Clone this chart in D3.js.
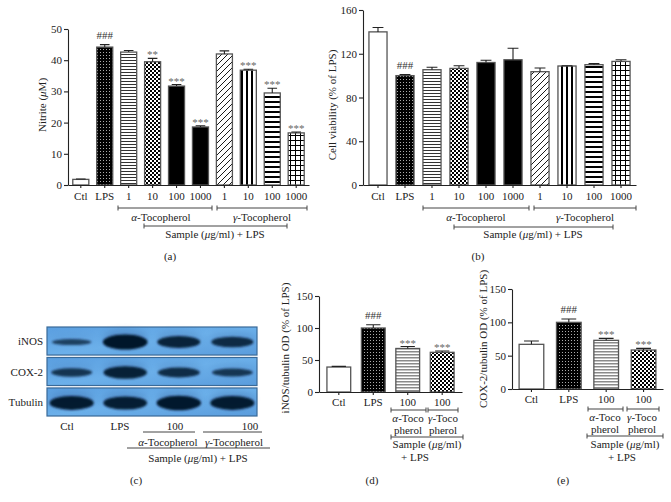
<!DOCTYPE html>
<html><head><meta charset="utf-8">
<script src="https://cdn.jsdelivr.net/npm/d3@7"></script>
<style>body{margin:0;background:#fff} svg text, svg tspan{font-family:"Liberation Serif",serif !important;fill:#222}</style>
</head><body><svg id="c" width="671" height="502" font-family="Liberation Serif, serif"></svg>
<script>
// ---------- data ----------
const catsAB = ["Ctl","LPS","a1","a10","a100","a1000","g1","g10","g100","g1000"];
const tickLabelsAB = ["Ctl","LPS","1","10","100","1000","1","10","100","1000"];
const patternsAB = ["white","dots","hlines","checker","black","black","diag","vstripes","hthick","grid"];
const nitrite = [1.8,44.2,42.6,39.5,31.7,18.6,42.0,36.8,29.5,16.7];
const nitriteErr = [1.9,45.0,43.1,40.6,32.2,19.0,43.0,37.1,31.0,17.0];
const nitriteSig = ["","###","","**","***","***","","***","***","***"];
const yTicksA = [0,10,20,30,40,50];
const viability = [140,100,105.4,106.6,112,114.5,103.6,108.8,110,113];
const viabilityErr = [144,101,107.6,109,114,125,107,109,111,114.5];
const viabilitySig = ["","###","","","","","","","",""];
const yTicksB = [0,40,80,120,160];
const catsDE = ["Ctl","LPS","a100","g100"];
const tickLabelsDE = ["Ctl","LPS","100","100"];
const patternsDE = ["white","dots","grayh","checker"];
const inos = [39,100,68,62];
const inosErr = [40,105,71,64];
const inosSig = ["","###","***","***"];
const cox2 = [67,100,73,58.5];
const cox2Err = [72,105,76,61];
const cox2Sig = ["","###","***","***"];
const yTicksDE = [0,50,100,150];
const blotRows = ["iNOS","COX-2","Tubulin"];
const blotLanes = ["Ctl","LPS","α100","γ100"];
const blotIntensity = [[0.25,1.0,0.75,0.62],[0.45,0.8,0.6,0.42],[0.9,0.85,0.95,0.9]];

// ---------- setup ----------
const FONT = "'Liberation Serif', serif";
const svg = d3.select("#c");
svg.append("rect").attr("width",671).attr("height",502).attr("fill","#fff");
const defs = svg.append("defs");
function pat(id,w,h,draw){const p=defs.append("pattern").attr("id",id).attr("patternUnits","userSpaceOnUse").attr("width",w).attr("height",h);draw(p);}
pat("dots",3,3,p=>{p.append("rect").attr("width",3).attr("height",3).attr("fill","#000");p.append("rect").attr("x",1).attr("y",1).attr("width",1).attr("height",1).attr("fill","#aaa");});
pat("hlines",3,3,p=>{p.append("rect").attr("width",3).attr("height",3).attr("fill","#fff");p.append("rect").attr("width",3).attr("height",1).attr("fill","#333");});
pat("checker",4,4,p=>{p.append("rect").attr("width",4).attr("height",4).attr("fill","#fff");p.append("rect").attr("width",2).attr("height",2).attr("fill","#000");p.append("rect").attr("x",2).attr("y",2).attr("width",2).attr("height",2).attr("fill","#000");});
pat("diag",6,6,p=>{p.append("rect").attr("width",6).attr("height",6).attr("fill","#fff");p.append("path").attr("d","M0,6L6,0M-1,1L1,-1M5,7L7,5").attr("stroke","#000").attr("stroke-width",0.9);});
pat("vstripes",5,5,p=>{p.append("rect").attr("width",5).attr("height",5).attr("fill","#fff");p.append("rect").attr("x",1).attr("width",2).attr("height",5).attr("fill","#000");});
pat("hthick",5,5,p=>{p.append("rect").attr("width",5).attr("height",5).attr("fill","#fff");p.append("rect").attr("y",1).attr("width",5).attr("height",2).attr("fill","#000");});
pat("grid",5,5,p=>{p.append("rect").attr("width",5).attr("height",5).attr("fill","#fff");p.append("path").attr("d","M0,0.5H5M0.5,0V5").attr("stroke","#000").attr("stroke-width",1);});
pat("grayh",3,3,p=>{p.append("rect").attr("width",3).attr("height",3).attr("fill","#fff");p.append("rect").attr("width",3).attr("height",1.5).attr("fill","#8a8a8a");});
const blur = defs.append("filter").attr("id","blur").attr("x","-30%").attr("y","-80%").attr("width","160%").attr("height","260%");
blur.append("feGaussianBlur").attr("stdDeviation",1.3);
const blur2 = defs.append("filter").attr("id","blur2").attr("x","-30%").attr("y","-100%").attr("width","160%").attr("height","300%");
blur2.append("feGaussianBlur").attr("stdDeviation",3.5);
const fillOf = p => p==="white"?"#fff":p==="black"?"#000":`url(#${p})`;

function barPanel(o){
  const g = svg.append("g");
  const x = d3.scaleBand().domain(o.cats).range(o.xr).paddingInner(o.pi).paddingOuter(o.po);
  const y = d3.scaleLinear().domain(o.yd).range(o.yr);
  const bw = x.bandwidth();
  g.selectAll("rect.bar").data(o.cats).join("rect").attr("class","bar")
    .attr("x",d=>x(d)).attr("width",bw)
    .attr("y",(d,i)=>y(o.vals[i])).attr("height",(d,i)=>y(0)-y(o.vals[i]))
    .attr("fill",(d,i)=>fillOf(o.pats[i])).attr("stroke","#555").attr("stroke-width",1.3);
  const cap = bw*0.3;
  g.selectAll("path.err").data(o.cats).join("path").attr("class","err")
    .attr("d",(d,i)=>{const cx=x(d)+bw/2,t=y(o.errs[i]),b=y(o.vals[i]);return `M${cx},${b}V${t}M${cx-cap},${t}H${cx+cap}`;})
    .attr("stroke","#222").attr("stroke-width",1.1).attr("fill","none");
  g.selectAll("text.sig").data(o.cats).join("text").attr("class","sig")
    .attr("x",d=>x(d)+bw/2).attr("y",(d,i)=>y(o.errs[i])-(o.sigs[i].startsWith("#")?6:0))
    .attr("text-anchor","middle").attr("font-size",11).attr("font-family",FONT)
    .style("fill",(d,i)=>o.sigs[i].startsWith("#")?"#333":"#666")
    .text((d,i)=>o.sigs[i]);
  const ya = g.append("g").attr("transform",`translate(${o.xr[0]},0)`)
    .call(d3.axisLeft(y).tickValues(o.yt).tickSize(4).tickSizeOuter(0).tickPadding(2));
  const xa = g.append("g").attr("transform",`translate(0,${o.yr[0]})`)
    .call(d3.axisBottom(x).tickSize(3).tickSizeOuter(0).tickPadding(o.xpad||4).tickFormat((d,i)=>o.labels[i]));
  [ya,xa].forEach(a=>{a.attr("font-family",FONT).attr("font-size",11);
    a.selectAll("text").attr("font-family",FONT).attr("font-size",11).style("fill","#222");
    a.selectAll("path,line").attr("stroke","#222").attr("stroke-width",1.1);});
  const t = g.append("text").attr("transform",`translate(${o.tx},${o.ty}) rotate(-90)`).attr("text-anchor","middle").attr("font-size",11).attr("font-family",FONT);
  o.title(t);
  return g;
}
function bracket(x1,x2,y,ends=true){
  let d=`M${x1},${y}H${x2}`; if(ends) d+=`M${x1},${y-2.5}V${y+2.5}M${x2},${y-2.5}V${y+2.5}`;
  svg.append("path").attr("d",d).attr("stroke","#444").attr("stroke-width",1).attr("fill","none");
}
function label(x,y,parts,size=11,anchor="middle"){
  const t=svg.append("text").attr("x",x).attr("y",y).attr("text-anchor",anchor).attr("font-size",size).attr("font-family",FONT);
  parts.forEach(p=>{const s=t.append("tspan").attr("font-family",FONT).text(typeof p==="string"?p:p.t); if(p.i) s.attr("font-style","italic");});
  return t;
}

// ---------- panel (a) ----------
barPanel({cats:catsAB,labels:tickLabelsAB,vals:nitrite,errs:nitriteErr,sigs:nitriteSig,pats:patternsAB,
  xr:[68,309],pi:0.33,po:0.2,yd:[0,50],yr:[185,29],yt:yTicksA,tx:46,ty:105,
  title:t=>{t.append("tspan").text("Nitrite (");t.append("tspan").attr("font-style","italic").text("μ");t.append("tspan").text("M)");}});
bracket(118,212,208); bracket(217,307,208); bracket(144,287,226);
label(161,221,[{t:"α",i:1},"-Tocopherol"]);
label(262,221,[{t:"γ",i:1},"-Tocopherol"]);
label(215,238,["Sample (",{t:"μ",i:1},"g/ml) + LPS"]);
label(170,260,["(a)"]);

// ---------- panel (b) ----------
barPanel({cats:catsAB,labels:tickLabelsAB,vals:viability,errs:viabilityErr,sigs:viabilitySig,pats:patternsAB,
  xr:[363,636],pi:0.33,po:0.22,yd:[0,160],yr:[185,10],yt:yTicksB,tx:336,ty:105,
  title:t=>{t.text("Cell viability (% of LPS)");}});
bracket(423,529,208); bracket(534,636,208); bracket(454,613,227);
label(476,221,[{t:"α",i:1},"-Tocopherol"]);
label(585,221,[{t:"γ",i:1},"-Tocopherol"]);
label(533,238,["Sample (",{t:"μ",i:1},"g/ml) + LPS"]);
label(478,260,["(b)"]);

// ---------- panel (c) western blot ----------
const lane = d3.scaleBand().domain(blotLanes).range([47,257]).paddingInner(0.18).paddingOuter(0.05);
const rowY = d3.scaleBand().domain(blotRows).range([327,416]).paddingInner(0.08);
const bg = defs.append("linearGradient").attr("id","blotbg").attr("x1",0).attr("y1",0).attr("x2",1).attr("y2",1);
bg.append("stop").attr("offset","0%").attr("stop-color","#5b9fe0");
bg.append("stop").attr("offset","50%").attr("stop-color","#6cb0ea");
bg.append("stop").attr("offset","100%").attr("stop-color","#5a9cdc");
blotRows.forEach((r,ri)=>{
  const y0=rowY(r),h=rowY.bandwidth();
  svg.append("rect").attr("x",47).attr("y",y0).attr("width",210).attr("height",h).attr("fill","url(#blotbg)").attr("stroke","#3a6a98").attr("stroke-width",1.2);
  const cg=svg.append("g");
  blotLanes.forEach((l,li)=>{
    const v=blotIntensity[ri][li];
    const cx=lane(l)+lane.bandwidth()/2, cy=y0+h/2+1;
    cg.append("ellipse").attr("cx",cx).attr("cy",cy-4).attr("rx",lane.bandwidth()*0.5).attr("ry",3+5*v).attr("fill","#2a5590").attr("opacity",0.3*v).attr("filter","url(#blur2)");
    cg.append("ellipse").attr("cx",cx).attr("cy",cy).attr("rx",lane.bandwidth()*(0.43+0.08*v)).attr("ry",1.5+6*v).attr("fill","#06122a").attr("opacity",0.6+0.4*v).attr("filter","url(#blur)");
  });
  label(43,y0+h/2+4,[r],11,"end");
});
label(67,430,["Ctl"]); label(120,430,["LPS"]); label(175,430,["100"]); label(250,430,["100"]);
bracket(143,195,432,false); bracket(203,262,432,false);
label(168,446,[{t:"α",i:1},"-Tocopherol"]);
label(234,446,[{t:"γ",i:1},"-Tocopherol"]);
bracket(127,270,448,false);
label(198,462,["Sample (",{t:"μ",i:1},"g/ml) + LPS"]);
label(136,484,["(c)"]);

// ---------- panel (d) ----------
barPanel({cats:catsDE,labels:tickLabelsDE,vals:inos,errs:inosErr,sigs:inosSig,pats:patternsDE,
  xr:[319,462],pi:0.31,po:0.23,yd:[0,150],yr:[392,296],yt:yTicksDE,tx:289,ty:348,xpad:3,
  title:t=>{t.text("iNOS/tubulin OD (% of LPS)");}});
bracket(391,426,410); bracket(428,458,410);
label(408,422,[{t:"α",i:1},"-Toco"]); label(443,422,[{t:"γ",i:1},"-Toco"]);
label(408,434,["pherol"]); label(443,434,["pherol"]);
bracket(391,463,437);
label(427,448,["Sample (",{t:"μ",i:1},"g/ml)"]);
label(415,461,["+ LPS"]);
label(372,484,["(d)"]);

// ---------- panel (e) ----------
barPanel({cats:catsDE,labels:tickLabelsDE,vals:cox2,errs:cox2Err,sigs:cox2Sig,pats:patternsDE,
  xr:[512,663],pi:0.34,po:0.19,yd:[0,150],yr:[389,289],yt:yTicksDE,tx:487,ty:339,xpad:3,
  title:t=>{t.text("COX-2/tubulin OD (% of LPS)");}});
bracket(588,623,409); bracket(627,659,409);
label(605,421,[{t:"α",i:1},"-Toco"]); label(642,421,[{t:"γ",i:1},"-Toco"]);
label(605,433,["pherol"]); label(642,433,["pherol"]);
bracket(587,663,436);
label(625,448,["Sample (",{t:"μ",i:1},"g/ml)"]);
label(622,461,["+ LPS"]);
label(563,484,["(e)"]);
</script></body></html>
